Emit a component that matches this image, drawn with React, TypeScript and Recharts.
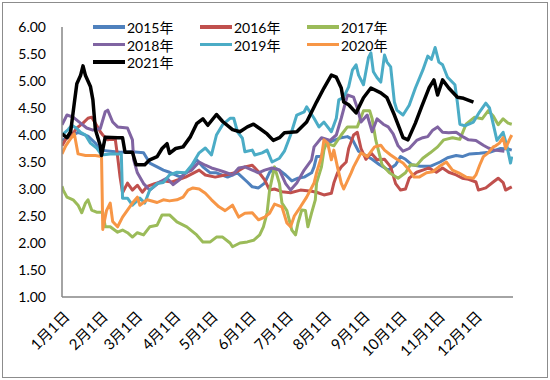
import { LineChart, Line, XAxis, YAxis } from 'recharts'

// day-of-year ticks for the first of every month
const monthTicks = [0, 31, 59, 90, 120, 151, 181, 212, 243, 273, 304, 334]
const monthLabels = ['1月1日', '2月1日', '3月1日', '4月1日', '5月1日', '6月1日', '7月1日', '8月1日', '9月1日', '10月1日', '11月1日', '12月1日']
const yTicks = [1, 1.5, 2, 2.5, 3, 3.5, 4, 4.5, 5, 5.5, 6]

// [day of year, value]
const s2015: [number, number][] = [
  [0, 3.9], [7, 3.98], [13, 4.05], [21, 3.98], [27, 3.85], [31, 3.72], [39, 3.7], [47, 3.68], [57, 3.69], [66, 3.67],
  [71, 3.48], [77, 3.41], [82, 3.35], [87, 3.31], [96, 3.22], [101, 3.31], [109, 3.54], [114, 3.41], [120, 3.3], [125, 3.3],
  [134, 3.22], [142, 3.3], [150, 3.13], [154, 3.04], [159, 3.02], [164, 3.11], [168, 3.31], [172, 3.39], [176, 3.35], [181, 3.26],
  [186, 3.15], [191, 3.2], [196, 3.22], [202, 3.3], [204, 3.41], [206, 3.6], [210, 3.6], [212, 3.78], [215, 3.85], [220, 3.9],
  [226, 3.95], [231, 3.97], [235, 3.92], [240, 3.7], [246, 3.62], [251, 3.55], [257, 3.45], [264, 3.35], [270, 3.45], [274, 3.6],
  [278, 3.55], [283, 3.45], [290, 3.42], [298, 3.42], [306, 3.5], [312, 3.58], [319, 3.62], [324, 3.6], [330, 3.65], [338, 3.66],
  [346, 3.68], [355, 3.75], [361, 3.74], [364, 3.72],
]

const s2016: [number, number][] = [
  [0, 3.8], [4, 3.96], [8, 4.0], [12, 4.13], [17, 4.22], [21, 4.31], [24, 4.33], [27, 4.22], [31, 4.06], [33, 4.0],
  [37, 3.91], [43, 3.94], [45, 3.6], [47, 3.22], [49, 2.93], [53, 3.11], [57, 2.98], [61, 3.07], [65, 2.94], [69, 3.05],
  [75, 3.1], [83, 3.15], [89, 3.13], [100, 3.22], [111, 3.35], [116, 3.26], [124, 3.22], [132, 3.26], [140, 3.3], [148, 3.41],
  [154, 3.44], [159, 3.32], [164, 3.17], [168, 2.98], [172, 3.0], [178, 2.95], [185, 2.93], [193, 2.98], [202, 2.96], [206, 2.94],
  [212, 2.89], [218, 2.92], [220, 3.11], [223, 3.3], [226, 3.41], [230, 3.5], [232, 3.75], [236, 4.0], [239, 4.05], [242, 3.75],
  [246, 3.55], [250, 3.67], [255, 3.54], [261, 3.55], [266, 3.41], [270, 3.1], [274, 2.98], [278, 3.0], [281, 3.2], [287, 3.31],
  [292, 3.35], [297, 3.39], [303, 3.31], [308, 3.39], [313, 3.31], [319, 3.26], [324, 3.2], [329, 3.18], [335, 3.13], [337, 2.98],
  [343, 3.02], [349, 3.13], [353, 3.2], [357, 3.12], [359, 2.98], [364, 3.04],
]

const s2017: [number, number][] = [
  [0, 3.05], [1, 2.98], [4, 2.85], [9, 2.8], [13, 2.7], [16, 2.56], [19, 2.74], [21, 2.8], [24, 2.61], [28, 2.57],
  [33, 2.57], [35, 2.3], [39, 2.3], [45, 2.2], [49, 2.24], [53, 2.19], [57, 2.11], [61, 2.19], [66, 2.15], [71, 2.3],
  [77, 2.33], [81, 2.52], [87, 2.52], [93, 2.39], [101, 2.3], [109, 2.15], [114, 2.02], [120, 2.02], [125, 2.11], [130, 2.11],
  [136, 2.0], [138, 1.93], [144, 2.0], [150, 2.02], [155, 2.05], [160, 2.15], [163, 2.3], [166, 2.56], [168, 2.98], [172, 3.41],
  [176, 3.1], [178, 2.74], [182, 2.6], [186, 2.24], [189, 2.15], [191, 2.37], [194, 2.61], [197, 2.6], [199, 2.3], [202, 2.56],
  [205, 2.8], [206, 3.11], [210, 3.41], [212, 3.72], [214, 3.85], [220, 3.8], [226, 4.0], [231, 4.15], [239, 4.15], [244, 4.45],
  [249, 4.45], [251, 4.3], [254, 3.9], [259, 3.45], [265, 3.3], [272, 3.2], [278, 3.3], [282, 3.45], [287, 3.44], [292, 3.57],
  [298, 3.67], [304, 3.78], [309, 3.91], [316, 3.95], [322, 3.92], [327, 4.2], [334, 4.33], [340, 4.3], [345, 4.45], [349, 4.35],
  [353, 4.19], [357, 4.3], [361, 4.22], [364, 4.2],
]

const s2018: [number, number][] = [
  [0, 4.19], [4, 4.37], [9, 4.33], [15, 4.22], [20, 4.13], [25, 4.09], [31, 4.12], [35, 4.43], [37, 4.46], [41, 4.24],
  [45, 4.15], [53, 4.13], [57, 3.91], [58, 3.54], [61, 3.3], [66, 3.1], [71, 2.98], [79, 3.13], [85, 3.2], [90, 3.08],
  [95, 3.17], [100, 3.3], [105, 3.35], [111, 3.5], [116, 3.44], [121, 3.39], [127, 3.35], [132, 3.31], [138, 3.26], [143, 3.39],
  [148, 3.41], [154, 3.35], [159, 3.3], [164, 3.35], [170, 3.39], [176, 3.35], [181, 3.1], [185, 2.98], [190, 3.11], [196, 3.35],
  [202, 3.54], [204, 3.78], [210, 3.95], [217, 3.9], [222, 4.0], [226, 4.31], [231, 4.74], [236, 4.7], [239, 4.5], [242, 4.24],
  [247, 4.37], [251, 4.06], [255, 4.3], [260, 4.2], [264, 4.15], [268, 4.02], [272, 3.8], [276, 3.7], [281, 3.75], [287, 3.9],
  [292, 3.95], [296, 3.97], [300, 4.09], [304, 4.15], [308, 4.05], [313, 4.04], [319, 4.05], [325, 3.96], [329, 3.91], [335, 3.9],
  [341, 3.81], [345, 3.76], [350, 3.72], [358, 3.7],
]

const s2019: [number, number][] = [
  [0, 4.0], [5, 4.1], [8, 4.18], [12, 4.12], [15, 4.05], [19, 4.0], [23, 3.85], [28, 3.76], [32, 3.63], [39, 3.65],
  [48, 3.65], [49, 2.83], [53, 2.83], [57, 2.7], [63, 2.83], [67, 2.74], [71, 2.98], [77, 3.1], [82, 3.12], [87, 3.26],
  [93, 3.31], [100, 3.3], [105, 3.44], [111, 3.67], [116, 3.76], [121, 3.63], [125, 4.0], [130, 4.19], [136, 4.31], [139, 4.31],
  [142, 4.06], [146, 3.94], [148, 3.69], [154, 3.72], [156, 3.63], [162, 3.67], [166, 3.72], [170, 3.5], [176, 3.57], [180, 3.7],
  [185, 4.0], [190, 4.37], [196, 4.43], [198, 4.52], [204, 4.31], [208, 4.15], [212, 4.24], [218, 4.06], [222, 4.31], [224, 4.65],
  [228, 4.7], [232, 4.89], [235, 5.2], [238, 5.3], [240, 5.11], [244, 4.93], [248, 5.43], [250, 5.52], [252, 5.17], [255, 5.06],
  [258, 4.98], [261, 5.48], [263, 5.35], [266, 5.26], [269, 4.61], [271, 4.46], [276, 4.37], [281, 4.55], [286, 4.87], [292, 5.2],
  [296, 5.46], [299, 5.4], [302, 5.62], [305, 5.35], [308, 5.3], [312, 5.07], [318, 4.93], [320, 4.6], [322, 4.2], [326, 4.17],
  [333, 4.24], [338, 4.43], [343, 4.59], [346, 4.5], [349, 4.2], [352, 3.9], [357, 4.05], [360, 3.8], [363, 3.48], [364, 3.6],
]

const s2020: [number, number][] = [
  [0, 3.65], [3, 3.8], [6, 3.9], [10, 4.02], [13, 3.65], [19, 3.62], [27, 3.62], [32, 3.6], [33, 2.25], [36, 2.6],
  [39, 2.74], [41, 2.4], [45, 2.3], [49, 2.48], [53, 2.61], [57, 2.74], [61, 2.85], [63, 2.7], [69, 2.8], [77, 2.75],
  [82, 2.8], [87, 2.78], [93, 2.8], [98, 2.85], [102, 2.98], [106, 3.02], [111, 3.0], [116, 2.92], [121, 2.8], [127, 2.67],
  [132, 2.6], [138, 2.7], [143, 2.48], [148, 2.55], [154, 2.56], [159, 2.43], [164, 2.48], [168, 2.55], [172, 2.72], [178, 2.67],
  [182, 2.37], [185, 2.3], [188, 2.5], [193, 2.67], [198, 2.85], [204, 3.11], [206, 3.3], [210, 3.6], [212, 3.91], [215, 3.85],
  [218, 3.54], [220, 3.72], [223, 3.4], [226, 3.11], [228, 3.0], [234, 3.3], [236, 3.41], [242, 3.67], [247, 3.6], [253, 3.78],
  [258, 3.81], [261, 3.72], [266, 3.63], [271, 3.55], [276, 3.48], [281, 3.35], [285, 3.22], [289, 3.22], [295, 3.3], [300, 3.32],
  [305, 3.41], [311, 3.5], [316, 3.35], [321, 3.3], [327, 3.22], [333, 3.2], [335, 3.26], [338, 3.44], [341, 3.6], [345, 3.67],
  [349, 3.78], [351, 3.8], [354, 3.85], [357, 3.95], [359, 3.75], [362, 3.91], [364, 4.0],
]

const s2021: [number, number][] = [
  [0, 4.02], [4, 3.95], [7, 4.06], [10, 4.6], [12, 4.95], [15, 5.1], [17, 5.28], [19, 5.1], [21, 5.0], [23, 4.9],
  [25, 4.65], [27, 4.1], [31, 3.8], [32, 3.62], [35, 3.96], [45, 3.95], [49, 3.95], [51, 3.68], [57, 3.68], [60, 3.45],
  [67, 3.45], [71, 3.54], [77, 3.6], [81, 3.75], [85, 3.84], [87, 3.66], [92, 3.75], [98, 3.78], [104, 3.97], [109, 4.21],
  [114, 4.3], [118, 4.18], [125, 4.38], [130, 4.25], [138, 4.1], [144, 4.06], [150, 4.15], [155, 4.2], [160, 4.12], [166, 4.02],
  [171, 3.9], [176, 3.95], [180, 4.04], [190, 4.06], [198, 4.24], [206, 4.61], [212, 4.87], [218, 5.11], [222, 5.07], [226, 4.87],
  [228, 4.61], [232, 4.56], [238, 4.41], [244, 4.69], [250, 4.87], [258, 4.78], [263, 4.69], [269, 4.37], [273, 4.13], [276, 3.95],
  [280, 3.91], [286, 4.22], [291, 4.52], [297, 4.87], [301, 5.02], [304, 4.74], [308, 5.02], [313, 4.87], [320, 4.7], [325, 4.68],
  [333, 4.61],
]

const series = [
  { name: '2015年', color: '#4F81BD', points: s2015 },
  { name: '2016年', color: '#C0504D', points: s2016 },
  { name: '2017年', color: '#9BBB59', points: s2017 },
  { name: '2018年', color: '#8064A2', points: s2018 },
  { name: '2019年', color: '#4BACC6', points: s2019 },
  { name: '2020年', color: '#F79646', points: s2020 },
  { name: '2021年', color: '#000000', points: s2021 },
]

const FONT = 'Lato, "Noto Sans CJK SC", sans-serif'

function LegendBox() {
  return (
    <div style={{ position: 'absolute', left: 93, top: 18, width: 340, fontFamily: FONT, fontSize: 14, color: '#000' }}>
      {series.map((s, i) => (
        <div
          key={s.name}
          style={{
            position: 'absolute',
            left: (i % 3) * 107,
            top: Math.floor(i / 3) * 17.5,
            display: 'flex',
            alignItems: 'center',
            height: 18,
          }}
        >
          <span style={{ display: 'inline-block', width: 32, height: 3.5, background: s.color, marginRight: 2 }} />
          <span>{s.name}</span>
        </div>
      ))}
    </div>
  )
}

export default function App() {
  return (
    <div style={{ position: 'absolute', left: 0, top: 0, width: 550, height: 380, background: '#fff' }}>
      <div
        style={{
          position: 'absolute',
          left: 2,
          top: 2,
          width: 544,
          height: 374,
          border: '1.5px solid #8c8c8c',
        }}
      />
      <LineChart width={550} height={380} margin={{ top: 27, right: 37, bottom: 0, left: 0 }}>
        <XAxis
          type="number"
          dataKey="d"
          domain={[0, 365]}
          ticks={monthTicks}
          interval={0}
          height={83}
          tickLine={false}
          tickFormatter={(v: number) => monthLabels[monthTicks.indexOf(v)]}
          tick={{ angle: -45, textAnchor: 'end', fontSize: 15, fill: '#000', fontFamily: FONT, dx: 1, dy: 5 }}
          axisLine={{ stroke: '#868686', strokeWidth: 1.5 }}
          allowDataOverflow
        />
        <YAxis
          type="number"
          domain={[1, 6]}
          ticks={yTicks}
          interval={0}
          width={62}
          tickLine={false}
          tickMargin={10}
          tickFormatter={(v: number) => v.toFixed(2)}
          tick={{ fontSize: 14, fill: '#000', fontFamily: FONT }}
          axisLine={{ stroke: '#868686', strokeWidth: 1.5 }}
        />
        {series.map((s) => (
          <Line
            key={s.name}
            data={s.points.map(([d, v]) => ({ d, v }))}
            dataKey="v"
            name={s.name}
            type="linear"
            stroke={s.color}
            strokeWidth={s.name === '2021年' ? 3.5 : 3}
            strokeLinejoin="round"
            dot={false}
            activeDot={false}
            isAnimationActive={false}
          />
        ))}
      </LineChart>
      <LegendBox />
    </div>
  )
}
